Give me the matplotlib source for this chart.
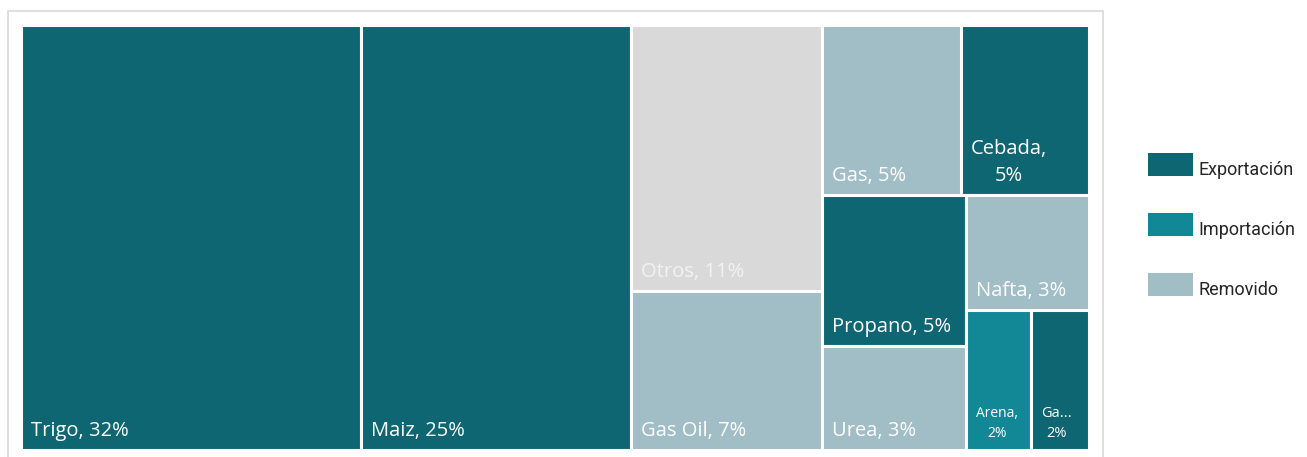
import matplotlib.pyplot as plt
from matplotlib.patches import Rectangle

# data (shares in %, read from the tile areas)
names = ["Trigo", "Maiz", "Otros", "Gas Oil", "Gas", "Cebada", "Propano",
         "Urea", "Nafta", "Arena", "Ga..."]
shares = [31.8, 25.3, 11.2, 6.7, 5.2, 4.8, 4.8, 3.3, 3.1, 2.0, 1.8]
tipo = ["Exportación", "Exportación", None, "Removido", "Removido", "Exportación",
        "Exportación", "Removido", "Removido", "Importación", "Exportación"]

legend_items = ["Exportación", "Importación", "Removido"]
colors = {"Exportación": "#0E6672", "Importación": "#128795",
          "Removido": "#A1BDC5", None: "#D9D9D9"}

# nesting of the treemap as drawn (h = side by side, v = stacked)
layout = ("h", [0, 1, ("v", [2, 3]),
                ("v", [("h", [4, 5]),
                       ("h", [("v", [6, 7]), ("v", [8, ("h", [9, 10])])])])])

val = dict(zip(range(len(names)), shares))


def total(node):
    if isinstance(node, int):
        return val[node]
    return sum(total(c) for c in node[1])


rects = {}


def place(node, x, y, w, h):
    # y is the top edge, going down
    if isinstance(node, int):
        rects[node] = (x, y - h, w, h)
        return
    kind, kids = node
    t = total(node)
    for k in kids:
        f = total(k) / t
        if kind == "h":
            place(k, x, y, w * f, h)
            x += w * f
        else:
            place(k, x, y, w, h * f)
            y -= h * f


place(layout, 0, 1, 1, 1)

fig = plt.figure(figsize=(13.07, 4.57), dpi=100)
W, H = 1307, 457

# chart frame
fig.patches.append(Rectangle((8 / W, -0.05), 1095 / W, 1.05 - 11 / H,
                             transform=fig.transFigure, fill=False,
                             edgecolor="#D9D9D9", linewidth=1.2))

ax = fig.add_axes([21 / W, 1 - 450 / H, 1068 / W, 425 / H])
ax.set_xlim(0, 1)
ax.set_ylim(0, 1)
ax.axis("off")

for i, n in enumerate(names):
    x, y, w, h = rects[i]
    ax.add_patch(Rectangle((x, y), w, h, facecolor=colors[tipo[i]],
                           edgecolor="white", linewidth=2.2))
    pct = f"{shares[i]:.0f}%"
    lab = f"{n}, {pct}"
    size = 14.5
    if n == "Cebada":
        lab = f"{n},\n{pct}"
    if n == "Arena":
        size = 10
        lab = f"{n},\n{pct}"
    if n == "Ga...":
        size = 10.5
        lab = f"{n}\n{pct}"
    tc = "#F2F2F2" if tipo[i] is None else "white"
    ax.annotate(lab, (x, y), xytext=(10, 9), textcoords="offset pixels",
                ha="left", va="bottom", multialignment="center",
                linespacing=1.45, color=tc, fontsize=size, family="Open Sans")

# legend
for j, item in enumerate(legend_items):
    yc = 165 + 60 * j
    fig.patches.append(Rectangle((1148 / W, 1 - (yc + 11) / H), 45 / W, 23 / H,
                                 transform=fig.transFigure,
                                 facecolor=colors[item], edgecolor="none"))
    fig.text(1198 / W, 1 - (yc + 5) / H, item, ha="left", va="center",
             fontsize=13, color="#262626", family="Roboto")

fig.savefig("out.png", dpi=100)
